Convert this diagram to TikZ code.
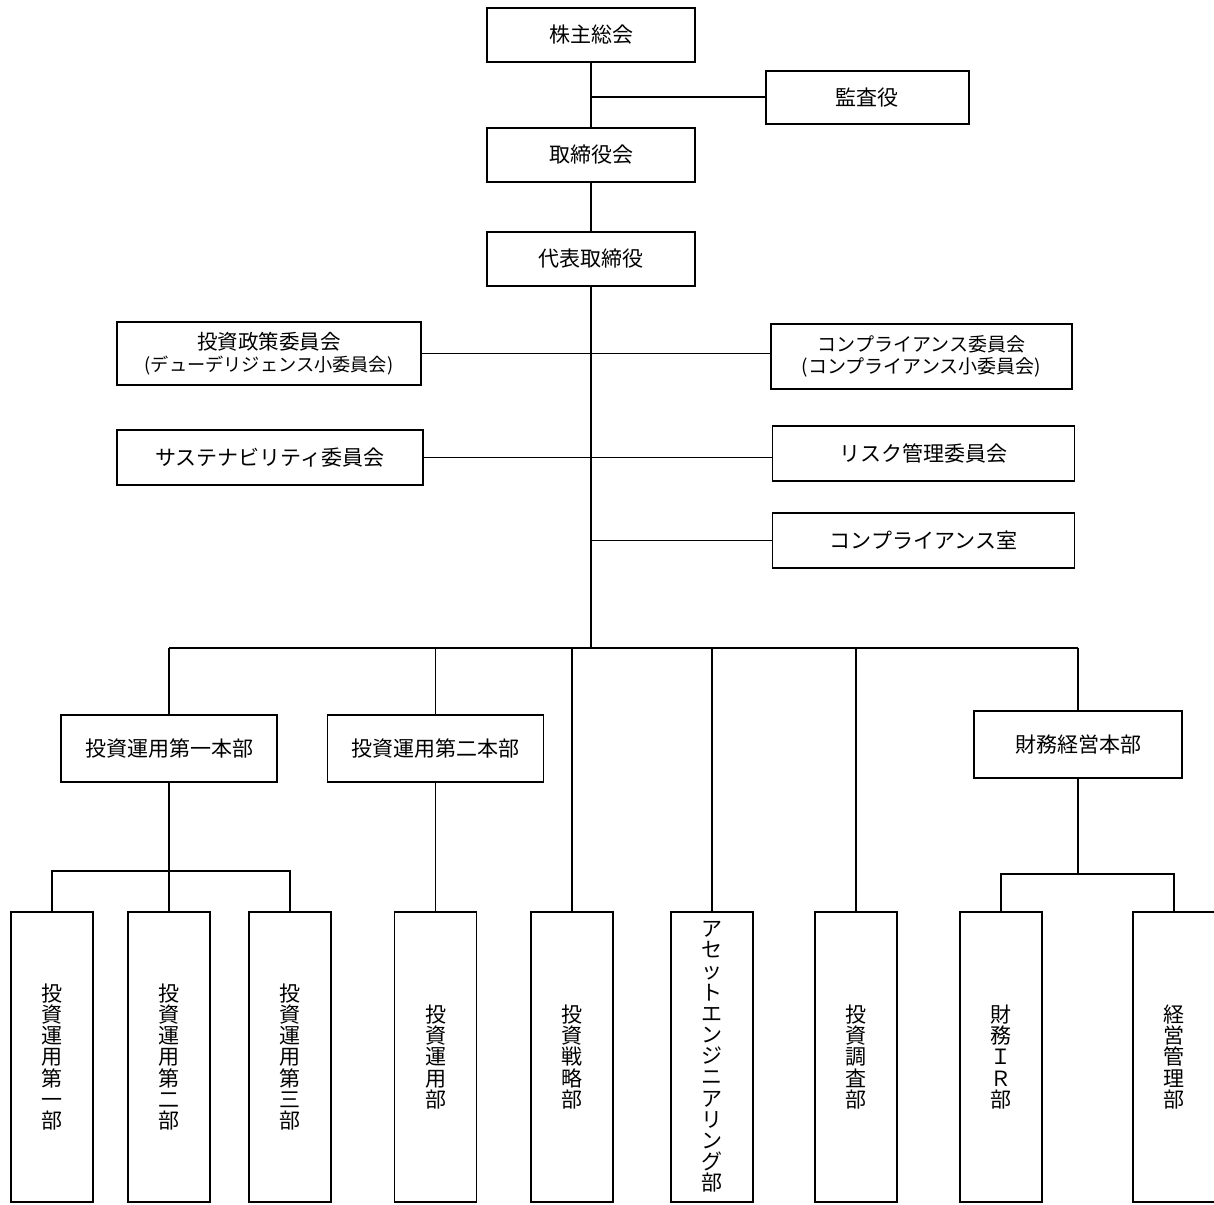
\documentclass[tikz,border=0pt]{standalone}
\usepackage{fontspec}
\setmainfont{Noto Sans CJK JP}
\usepackage{tikz}
\usetikzlibrary{positioning}

\begin{document}
\begin{tikzpicture}[
  x=0.5pt, y=-0.5pt,
  font=\fontsize{10.5pt}{11pt}\selectfont,
  unit/.style={draw,line width=0.9pt,minimum width=104pt,minimum height=27pt,align=center,inner sep=0pt},
  cmte/.style={draw,line width=0.9pt,minimum width=151pt,minimum height=27.5pt,align=center,inner sep=0pt},
  hq/.style={draw,line width=0.9pt,minimum width=108pt,minimum height=33.5pt,align=center,inner sep=0pt},
  dept/.style={draw,line width=0.9pt,minimum width=41pt,minimum height=145pt,align=center,inner sep=0pt,
    font=\fontsize{10.5pt}{10.6pt}\selectfont},
  wire/.style={line width=0.9pt},
]
\useasboundingbox (0,0) rectangle (1214,1204);

% top of the company
\node[unit] (kabu) at (591,35) {株主総会};
\node[unit,below=32pt of kabu] (tori) {取締役会};
\node[unit,below=24pt of tori] (daihyo) {代表取締役};
\node[unit,minimum width=101.5pt,minimum height=26.5pt,below right=3.5pt and 34.5pt of kabu] (kansa) {監査役};
\draw[wire] (kabu) -- (tori);
\draw[wire] (tori) -- (daihyo);
\draw[wire] (kansa.west) -- (kansa.west -| kabu.south);

% committees
\node[cmte,minimum width=152pt,minimum height=31.5pt] (seisaku) at (269,353.5)
  {\fontsize{10.25pt}{10pt}\selectfont 投資政策委員会\\\fontsize{9.1pt}{10pt}\selectfont (デューデリジェンス小委員会)};
\node[cmte,minimum width=150.5pt,minimum height=32.5pt,font=\fontsize{9.5pt}{11pt}\selectfont] (compiin) at (921.5,356.5)
  {コンプライアンス委員会\\(コンプライアンス小委員会)};
\node[cmte,minimum width=153pt] (sust) at (270,457.5) {サステナビリティ委員会};
\node[cmte] (risk) at (923.5,453.5) {リスク管理委員会};
\node[cmte] (shitsu) at (923.5,540.5) {コンプライアンス室};
\coordinate (hub) at (591,648);
\draw[wire] (daihyo.south) -- (hub);
\draw[wire] (seisaku.east) -- (compiin.west |- seisaku.east);
\draw[wire] (sust.east) -- (risk.west |- sust.east);
\draw[wire] (shitsu.west) -- (shitsu.west -| hub);

% headquarters
\node[hq] (hon1) at (169,748.5) {投資運用第一本部};
\node[hq] (hon2) at (435.5,748.5) {投資運用第二本部};
\node[hq,minimum width=104pt] (zhon) at (1078,744.5) {財務経営本部};

% departments
\node[dept] (b1) at (52,1057) {投\\資\\運\\用\\第\\一\\部};
\node[dept] (b2) at (169,1057) {投\\資\\運\\用\\第\\二\\部};
\node[dept] (b3) at (290,1057) {投\\資\\運\\用\\第\\三\\部};
\node[dept] (b4) at (435.5,1057) {投\\資\\運\\用\\部};
\node[dept] (b5) at (572,1057) {投\\資\\戦\\略\\部};
\node[dept] (b6) at (712,1057) {ア\\セ\\ッ\\ト\\エ\\ン\\ジ\\ニ\\ア\\リ\\ン\\グ\\部};
\node[dept] (b7) at (856,1057) {投\\資\\調\\査\\部};
\node[dept] (b8) at (1001,1057) {財\\務\\Ｉ\\Ｒ\\部};
\node[dept] (b9) at (1174,1057) {経\\営\\管\\理\\部};

% bus lines
\draw[wire] (hon1.north |- hub) -- (zhon.north |- hub);
\draw[wire] (hon1.north) -- (hon1.north |- hub);
\draw[wire] (hon2.north) -- (hon2.north |- hub);
\draw[wire] (b5.north) -- (b5.north |- hub);
\draw[wire] (b6.north) -- (b6.north |- hub);
\draw[wire] (b7.north) -- (b7.north |- hub);
\draw[wire] (zhon.north) -- (zhon.north |- hub);
\draw[wire] (hon1.south) -- (b2.north);
\draw[wire] (b1.north) -- ++(0,-40) -| (b3.north);
\draw[wire] (hon2.south) -- (b4.north);
\draw[wire] (b8.north) -- ++(0,-37) coordinate (zsub) -| (b9.north);
\draw[wire] (zhon.south) -- (zhon.south |- zsub);
\end{tikzpicture}
\end{document}
